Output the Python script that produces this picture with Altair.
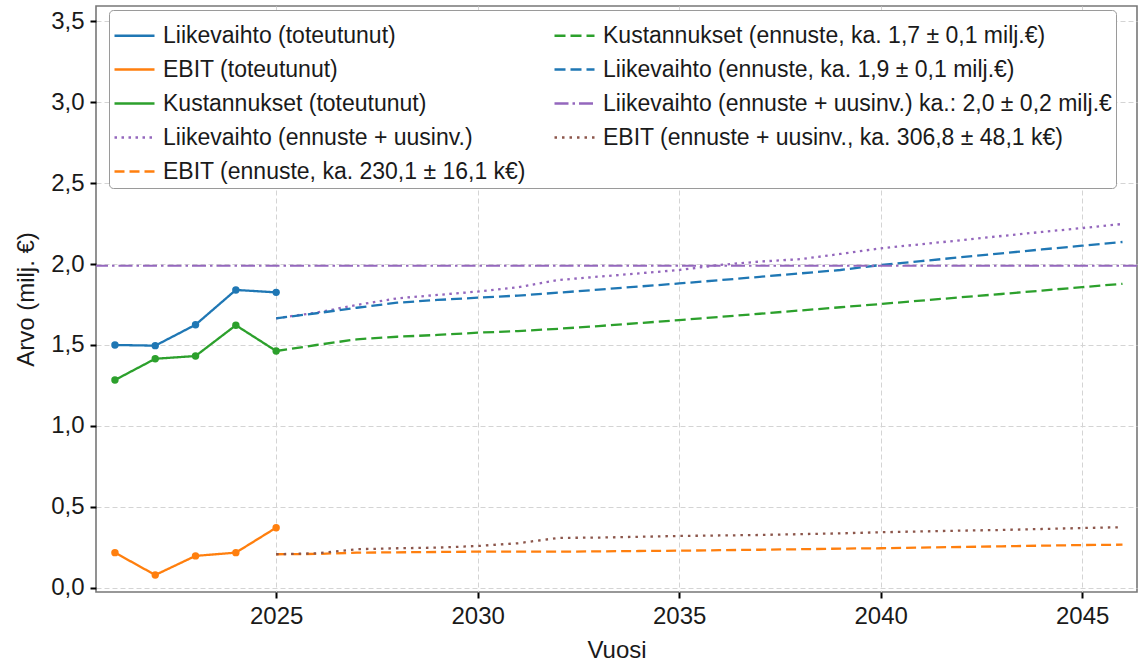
import altair as alt
import pandas as pd

# --- series names (legend labels) ---
S_LV_ACT = "Liikevaihto (toteutunut)"
S_EBIT_ACT = "EBIT (toteutunut)"
S_KUST_ACT = "Kustannukset (toteutunut)"
S_LV_UUS = "Liikevaihto (ennuste + uusinv.)"
S_EBIT_FC = "EBIT (ennuste, ka. 230,1 ± 16,1 k€)"
S_KUST_FC = "Kustannukset (ennuste, ka. 1,7 ± 0,1 milj.€)"
S_LV_FC = "Liikevaihto (ennuste, ka. 1,9 ± 0,1 milj.€)"
S_LV_MEAN = "Liikevaihto (ennuste + uusinv.) ka.: 2,0 ± 0,2 milj.€"
S_EBIT_UUS = "EBIT (ennuste + uusinv., ka. 306,8 ± 48,1 k€)"

# --- realised values (milj. €) ---
years_actual = [2021, 2022, 2023, 2024, 2025]
liikevaihto_actual = [1.500, 1.496, 1.625, 1.840, 1.825]
ebit_actual = [0.218, 0.080, 0.198, 0.218, 0.372]
kustannukset_actual = [1.284, 1.415, 1.432, 1.622, 1.463]

# --- forecasts 2025-2046 (milj. €) ---
years_forecast = [2025, 2026, 2027, 2028, 2029, 2030, 2031, 2032, 2033, 2034, 2035,
                  2036, 2037, 2038, 2039, 2040, 2041, 2042, 2043, 2044, 2045, 2046]
liikevaihto_forecast = [1.665, 1.696, 1.730, 1.761, 1.778, 1.792, 1.805, 1.823, 1.842, 1.861, 1.880,
                        1.900, 1.921, 1.942, 1.963, 1.994, 2.018, 2.042, 2.066, 2.090, 2.113, 2.136]
liikevaihto_uusinv = [1.665, 1.700, 1.747, 1.788, 1.809, 1.830, 1.856, 1.901, 1.922, 1.942, 1.963,
                      1.994, 2.015, 2.030, 2.062, 2.097, 2.122, 2.147, 2.173, 2.198, 2.222, 2.247]
kustannukset_forecast = [1.463, 1.500, 1.535, 1.551, 1.562, 1.576, 1.586, 1.600, 1.617, 1.635, 1.654,
                         1.673, 1.693, 1.713, 1.733, 1.753, 1.774, 1.795, 1.815, 1.836, 1.857, 1.878]
ebit_forecast = [0.208, 0.210, 0.218, 0.220, 0.222, 0.224, 0.224, 0.224, 0.226, 0.228, 0.230,
                 0.233, 0.236, 0.239, 0.243, 0.245, 0.249, 0.253, 0.257, 0.261, 0.265, 0.267]
ebit_uusinv = [0.208, 0.214, 0.239, 0.245, 0.249, 0.259, 0.276, 0.309, 0.311, 0.316, 0.321,
               0.324, 0.327, 0.332, 0.337, 0.344, 0.349, 0.354, 0.358, 0.364, 0.370, 0.375]
liikevaihto_uusinv_mean = 1.99

x_ticks = [2025, 2030, 2035, 2040, 2045]
y_ticks = [0, 0.5, 1.0, 1.5, 2.0, 2.5, 3.0, 3.5]

# legend order: first column top to bottom, then the second column
legend_order = [S_LV_ACT, S_EBIT_ACT, S_KUST_ACT, S_LV_UUS, S_EBIT_FC,
                S_KUST_FC, S_LV_FC, S_LV_MEAN, S_EBIT_UUS]
series_colors = {
    S_LV_ACT: "#1f77b4", S_EBIT_ACT: "#ff7f0e", S_KUST_ACT: "#2ca02c",
    S_LV_UUS: "#9467bd", S_EBIT_FC: "#ff7f0e", S_KUST_FC: "#2ca02c",
    S_LV_FC: "#1f77b4", S_LV_MEAN: "#9467bd", S_EBIT_UUS: "#8c564b",
}
series_dashes = {
    S_LV_ACT: [1, 0], S_EBIT_ACT: [1, 0], S_KUST_ACT: [1, 0],
    S_LV_UUS: [2.5, 4.5], S_EBIT_FC: [10, 5], S_KUST_FC: [11, 5],
    S_LV_FC: [11, 5], S_LV_MEAN: [14, 4, 2.5, 4], S_EBIT_UUS: [2.5, 5],
}
actual_names = [S_LV_ACT, S_EBIT_ACT, S_KUST_ACT]

rows = []
for name, xs, ys in [
    (S_LV_ACT, years_actual, liikevaihto_actual),
    (S_EBIT_ACT, years_actual, ebit_actual),
    (S_KUST_ACT, years_actual, kustannukset_actual),
    (S_LV_UUS, years_forecast, liikevaihto_uusinv),
    (S_EBIT_FC, years_forecast, ebit_forecast),
    (S_KUST_FC, years_forecast, kustannukset_forecast),
    (S_LV_FC, years_forecast, liikevaihto_forecast),
    (S_EBIT_UUS, years_forecast, ebit_uusinv),
]:
    for x, y in zip(xs, ys):
        rows.append({"series": name, "year": x, "value": y})
lines_df = pd.DataFrame(rows)
points_df = lines_df[lines_df["series"].isin(actual_names)]
mean_df = pd.DataFrame({"series": [S_LV_MEAN], "value": [liikevaihto_uusinv_mean]})

FONT = "Liberation Sans"
TEXT = "#1a1a1a"
W, H = 1041, 586

color_scale = alt.Scale(domain=legend_order, range=[series_colors[s] for s in legend_order])
dash_scale = alt.Scale(domain=legend_order, range=[series_dashes[s] for s in legend_order])

legend = alt.Legend(
    title=None, orient="none", legendX=13, legendY=4, columns=2,
    columnPadding=23, rowPadding=-3, padding=4,
    labelFont=FONT, labelFontSize=23, labelColor=TEXT, labelLimit=800, labelOffset=7,
    symbolSize=1600, symbolStrokeWidth=2.4, symbolType="stroke",
    fillColor="white", strokeColor="#9a9a9a", cornerRadius=4,
)

x_scale = alt.Scale(domain=[2020.53, 2046.36], nice=False, zero=False)
y_scale = alt.Scale(domain=[-0.025, 3.593], nice=False, zero=False)

x_main = alt.X("year:Q", scale=x_scale,
               axis=alt.Axis(values=x_ticks, format="d", title="Vuosi",
                             tickSize=6, labelPadding=6, titlePadding=10))
y_main = alt.Y("value:Q", scale=y_scale,
               axis=alt.Axis(values=y_ticks, title="Arvo (milj. €)", tickSize=6,
                             labelExpr="replace(format(datum.value, '.1f'), '.', ',')",
                             labelPadding=6, titlePadding=12))

lines = alt.Chart(lines_df).mark_line(strokeWidth=2.3).encode(
    x=x_main, y=y_main,
    color=alt.Color("series:N", scale=color_scale, legend=legend),
    strokeDash=alt.StrokeDash("series:N", scale=dash_scale, legend=legend),
)
mean_rule = alt.Chart(mean_df).mark_rule(strokeWidth=2).encode(
    y=alt.Y("value:Q"),
    color=alt.Color("series:N", scale=color_scale, legend=None),
    strokeDash=alt.StrokeDash("series:N", scale=dash_scale, legend=None),
)
points = alt.Chart(points_df).mark_circle(size=55, opacity=1).encode(
    x=alt.X("year:Q"), y=alt.Y("value:Q"),
    color=alt.Color("series:N", scale=color_scale, legend=None),
)

chart = alt.layer(lines, mean_rule, points).properties(
    width=W, height=H,
    autosize=alt.AutoSizeParams(type="none"),
    padding={"left": 96, "top": 6, "right": 2, "bottom": 69},
    background="white",
).configure_view(
    stroke="#777777", strokeWidth=1.6,
).configure_axis(
    domain=False, grid=True, gridColor="#d4d4d4", gridDash=[5, 3], gridWidth=1,
    tickColor="black", tickWidth=2,
    labelFont=FONT, labelFontSize=24, labelColor=TEXT,
    titleFont=FONT, titleFontSize=24, titleFontWeight="normal", titleColor=TEXT,
)

chart.save("out.html", embed_options={"renderer": "svg", "actions": False})
